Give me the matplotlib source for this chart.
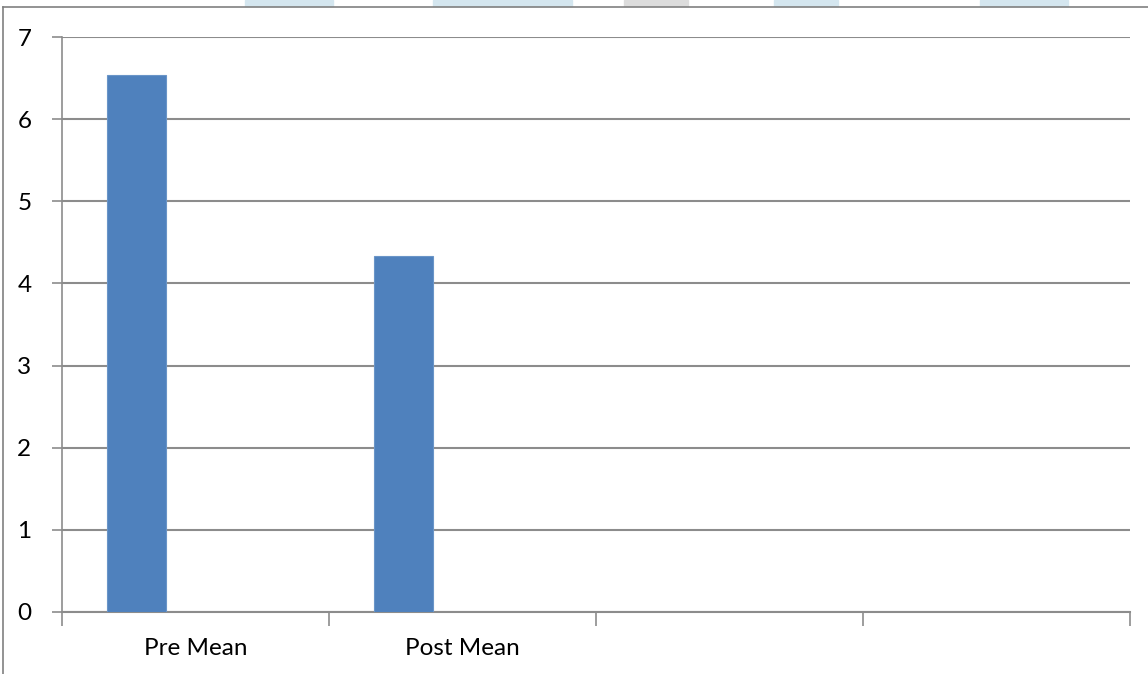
import numpy as np
import matplotlib.pyplot as plt
from matplotlib.patches import Rectangle

# data
categories = ["Pre Mean", "Post Mean", "", ""]
values = [6.54, 4.33, np.nan, np.nan]
y_ticks = [0, 1, 2, 3, 4, 5, 6, 7]

if __name__ == "__main__":
    plt.rcParams["font.family"] = ["Lato", "DejaVu Sans"]

    fig = plt.figure(figsize=(11.48, 6.74), dpi=100)
    ax = fig.add_axes([62 / 1148, 1 - 612 / 674, (1130 - 62) / 1148, (612 - 37) / 674])

    grid_color = "#8c8c8c"
    bar_color = "#4f81bd"

    # bars sit in the left part of each category slot (excel clustered look)
    x = np.arange(len(categories))
    ax.bar(x - 0.221, values, width=0.221, color=bar_color, edgecolor="#6a95c8",
           linewidth=0.8, zorder=3)

    ax.set_xlim(-0.5, len(categories) - 0.5)
    ax.set_ylim(0, 7)
    ax.set_yticks(y_ticks)
    ax.yaxis.grid(True, color=grid_color, linewidth=1.5)
    ax.set_axisbelow(True)

    # category boundaries get the tick marks, labels go in the middle
    ax.set_xticks(np.arange(len(categories) + 1) - 0.5)
    ax.set_xticklabels([])
    ax.set_xticks(x, labels=categories, minor=True)
    ax.tick_params(axis="x", which="major", length=10, width=1.2, color=grid_color)
    ax.tick_params(axis="x", which="minor", length=0, pad=19, labelsize=17.5)
    ax.tick_params(axis="y", length=7, width=1.2, color=grid_color, pad=15,
                   labelsize=17.5)

    for side in ["top", "right"]:
        ax.spines[side].set_visible(False)
    ax.spines["left"].set_color(grid_color)
    ax.spines["bottom"].set_color(grid_color)
    ax.spines["left"].set_linewidth(1.2)
    ax.spines["bottom"].set_linewidth(1.5)

    # outer chart frame (left and top edges visible)
    fig.add_artist(plt.Line2D([3 / 1148, 3 / 1148], [0, 1 - 7 / 674],
                              color="#808080", linewidth=1.2))
    fig.add_artist(plt.Line2D([3 / 1148, 1], [1 - 7 / 674, 1 - 7 / 674],
                              color="#808080", linewidth=1.2))

    # faint watermark pieces peeking above the frame
    for x0, x1, col in [(245, 333, "#d4e6ef"), (433, 572, "#d4e6ef"),
                        (624, 688, "#dcdcdc"), (774, 838, "#d4e6ef"),
                        (980, 1068, "#d4e6ef")]:
        fig.add_artist(Rectangle((x0 / 1148, 1 - 6 / 674), (x1 - x0) / 1148, 6 / 674,
                                 transform=fig.transFigure, color=col, zorder=0))

    fig.savefig("out.png", dpi=100)
